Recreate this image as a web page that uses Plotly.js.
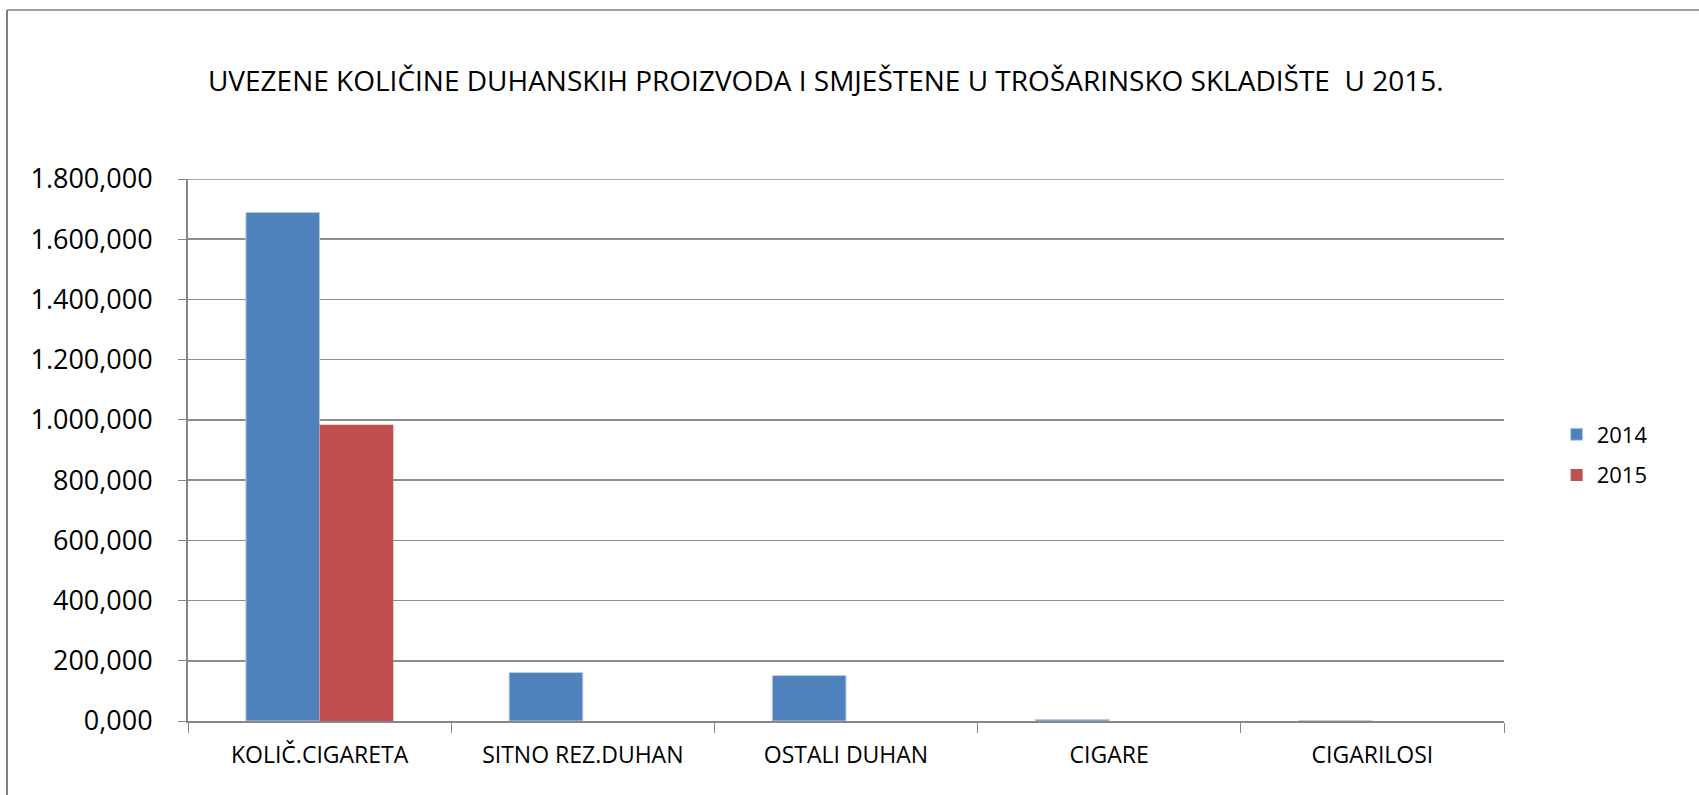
<!DOCTYPE html>
<html>
<head>
<meta charset="utf-8">
<script src="https://cdn.plot.ly/plotly-3.0.1.min.js"></script>
<style>html,body{margin:0;padding:0;background:#fff;}#chart{width:1699px;height:795px;}</style>
</head>
<body>
<div id="chart"></div>
<script>
const categories = ["KOLIČ.CIGARETA", "SITNO REZ.DUHAN", "OSTALI DUHAN", "CIGARE", "CIGARILOSI"];
const values2014 = [1689, 161, 151, 5, 0.5];
const values2015 = [984, 0, 0, 0, 0];
const tickVals = [0, 200, 400, 600, 800, 1000, 1200, 1400, 1600, 1800];
const tickText = ["0,000", "200,000", "400,000", "600,000", "800,000", "1.000,000", "1.200,000", "1.400,000", "1.600,000", "1.800,000"];

const FONT = "Open Sans, Noto Sans, sans-serif";

const traces = [
  {type: "bar", name: "2014", legendgroup: "a", x: categories, y: values2014,
   marker: {color: "#4f81bd", line: {color: "#b9cde5", width: 1}}},
  {type: "bar", name: "2015", legendgroup: "b", x: categories, y: values2015,
   marker: {color: "#c0504d", line: {width: 0}}}
];

const M = {l: 188, r: 195, t: 179, b: 74};
const plotW = 1699 - M.l - M.r, plotH = 795 - M.t - M.b;
const px = (x) => (x - M.l) / plotW;
const py = (y) => (795 - M.b - y) / plotH;

const layout = {
  width: 1699, height: 795,
  margin: M,
  paper_bgcolor: "#fff", plot_bgcolor: "#fff",
  barmode: "group", bargap: 0.44, bargroupgap: 0,
  showlegend: true,
  title: {text: "UVEZENE KOLIČINE DUHANSKIH PROIZVODA I SMJEŠTENE U TROŠARINSKO SKLADIŠTE  U 2015.",
          font: {family: FONT, size: 28, color: "#000"}, x: 0.486, xanchor: "center", y: 0.898, yanchor: "middle"},
  legend: {x: 1.04, xanchor: "left", y: py(455), yanchor: "middle",
           font: {family: FONT, size: 22, color: "#000"}, tracegroupgap: 9, itemwidth: 30},
  xaxis: {type: "category", showline: true, linecolor: "#868686", linewidth: 2,
          ticks: "outside", tickson: "boundaries", ticklen: 10, tickcolor: "#868686", tickwidth: 1,
          tickfont: {family: FONT, size: 23, color: "#000"}, showgrid: false, zeroline: false,
          ticklabelstandoff: 12},
  yaxis: {range: [0, 1800], tickvals: tickVals, ticktext: tickText,
          showline: true, linecolor: "#868686", linewidth: 2,
          ticks: "outside", ticklen: 8, tickcolor: "#868686", tickwidth: 1,
          showgrid: true, gridcolor: "#8c8c8c", gridwidth: 1.5, zeroline: false,
          tickfont: {family: FONT, size: 27, color: "#000"}, ticklabelstandoff: 20},
  shapes: [
    {type: "line", xref: "paper", yref: "y", x0: 0, x1: 1, y0: 1800, y1: 1800, line: {color: "#8c8c8c", width: 1.5}},
    {type: "line", xref: "paper", yref: "paper", x0: px(7), x1: px(1700), y0: py(10), y1: py(10), line: {color: "#a0a0a0", width: 2}},
    {type: "line", xref: "paper", yref: "paper", x0: px(7), x1: px(7), y0: py(10), y1: py(796), line: {color: "#808080", width: 2}}
  ]
};

Plotly.newPlot("chart", traces, layout, {displayModeBar: false, staticPlot: true});
</script>
</body>
</html>
